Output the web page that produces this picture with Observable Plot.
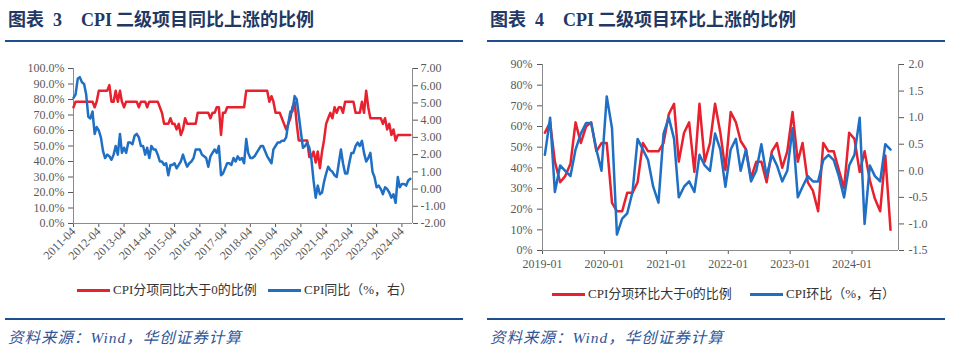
<!DOCTYPE html>
<html><head><meta charset="utf-8">
<script src="https://cdn.jsdelivr.net/npm/d3@7"></script>
<script src="https://cdn.jsdelivr.net/npm/@observablehq/plot@0.6"></script>
<style>
html,body{margin:0;padding:0;background:#fff;}
body{width:960px;height:358px;overflow:hidden;position:relative;font-family:"Liberation Serif","Noto Sans CJK SC",serif;}
.title{position:absolute;top:10px;font-size:18px;font-weight:bold;color:#1F3864;white-space:nowrap;line-height:20px;}
.rule{position:absolute;height:2px;background:#1F4E8C;}
.src{position:absolute;top:329px;font-size:15.5px;letter-spacing:1px;font-style:italic;color:#2F5597;white-space:nowrap;line-height:18px;}
.chart{position:absolute;top:50px;width:480px;height:225px;}
.chart svg{position:absolute;left:0;top:0;}
.leg{position:absolute;font-size:13px;color:#333;white-space:nowrap;line-height:16px;}
.leg i{display:inline-block;width:33px;height:3px;vertical-align:middle;margin-right:3px;position:relative;top:-1px;}
</style>
</head><body>
<div class="title" style="left:8px"><span>图表</span><span style="margin-left:9px">3</span><span style="margin-left:19px">CPI</span><span style="margin-left:4px">二级项目同比上涨的比例</span></div>
<div class="rule" style="left:5px;width:458px;top:40px"></div>
<div class="chart" id="c1" style="left:0"></div>
<div class="leg" style="left:77px;top:282px"><i style="background:#E8212E"></i>CPI分项同比大于0的比例</div>
<div class="leg" style="left:268px;top:282px"><i style="background:#1F6FC5"></i>CPI同比（%，右）</div>
<div class="rule" style="left:5px;width:458px;top:318px"></div>
<div class="src" style="left:8px">资料来源：Wind，华创证券计算</div>

<div class="title" style="left:490px"><span>图表</span><span style="margin-left:9px">4</span><span style="margin-left:19px">CPI</span><span style="margin-left:4px">二级项目环比上涨的比例</span></div>
<div class="rule" style="left:487px;width:458px;top:40px"></div>
<div class="chart" id="c2" style="left:480px"></div>
<div class="leg" style="left:552px;top:286px"><i style="background:#E8212E"></i>CPI分项环比大于0的比例</div>
<div class="leg" style="left:750px;top:286px"><i style="background:#1F6FC5"></i>CPI环比（%，右）</div>
<div class="rule" style="left:487px;width:458px;top:318px"></div>
<div class="src" style="left:490px">资料来源：Wind，华创证券计算</div>

<script>
// ---------- Data: Chart 3 (monthly, from 2011-04) ----------
const yoyStart = "2011-04";
const yoyShare = [ // % of CPI sub-items with YoY > 0
  75.0, 78.6, 78.6, 78.6, 78.6, 78.6, 78.6, 78.6, 78.6,
  78.6, 75.0, 78.6, 85.7, 85.7, 85.7, 85.7, 85.7, 89.3, 78.6, 78.6, 85.7,
  78.6, 85.7, 78.6, 75.0, 78.6, 78.6, 78.6, 78.6, 78.6, 78.6, 75.0, 78.6,
  78.6, 78.6, 75.0, 78.6, 78.6, 78.6, 78.6, 78.6, 75.0, 71.4, 64.3, 64.3,
  64.3, 67.9, 64.3, 64.3, 60.7, 64.3, 57.1, 60.7, 67.9, 64.3, 64.3, 64.3,
  64.3, 64.3, 71.4, 71.4, 71.4, 71.4, 71.4, 71.4, 67.9, 71.4, 71.4, 75.0,
  75.0, 57.1, 71.4, 71.4, 75.0, 75.0, 75.0, 75.0, 75.0, 75.0, 75.0, 75.0,
  75.0, 85.7, 85.7, 85.7, 85.7, 85.7, 85.7, 85.7, 85.7, 85.7, 85.7, 85.7,
  78.6, 82.1, 78.6, 71.4, 71.4, 71.4, 67.9, 64.3, 60.7, 64.3, 67.9, 75.0,
  78.6, 64.3, 53.6, 53.6, 53.6, 53.6, 53.6, 42.9, 42.9, 46.4, 39.3, 46.4,
  35.7, 46.4, 53.6, 64.3, 67.9, 71.4, 67.9, 75.0, 71.4, 75.0, 75.0, 71.4,
  78.6, 78.6, 78.6, 78.6, 78.6, 71.4, 71.4, 71.4, 78.6, 71.4, 85.7, 75.0,
  67.9, 67.9, 67.9, 67.9, 67.9, 67.9, 64.3, 67.9, 60.7, 64.3, 57.1, 60.7,
  53.6, 57.1, 57.1, 57.1, 57.1, 57.1, 57.1, 57.1
];
const cpiYoY = [ // CPI YoY, %
  5.3, 5.5, 6.4, 6.5, 6.2, 6.1, 5.5, 4.2, 4.1,
  4.5, 3.2, 3.6, 3.4, 3.0, 2.2, 1.8, 2.0, 1.9, 1.7, 2.0, 2.5,
  2.0, 3.2, 2.1, 2.4, 2.1, 2.7, 2.7, 2.6, 3.1, 3.2, 3.0, 2.5,
  2.5, 2.0, 2.4, 1.8, 2.5, 2.3, 2.3, 2.0, 1.6, 1.6, 1.4, 1.5,
  0.8, 1.4, 1.4, 1.5, 1.2, 1.4, 1.6, 2.0, 1.6, 1.3, 1.5, 1.6,
  1.8, 2.3, 2.3, 2.3, 2.0, 1.9, 1.8, 1.3, 1.9, 2.1, 2.3, 2.1,
  2.5, 0.8, 0.9, 1.2, 1.5, 1.5, 1.4, 1.8, 1.6, 1.9, 1.7, 1.8,
  1.5, 2.9, 2.1, 1.8, 1.8, 1.9, 2.1, 2.3, 2.5, 2.5, 2.2, 1.9,
  1.7, 1.5, 2.3, 2.5, 2.7, 2.7, 2.8, 2.8, 3.0, 3.8, 4.5, 4.5,
  5.4, 5.2, 4.3, 3.3, 2.4, 2.5, 2.7, 2.4, 1.7, 0.5, -0.5, 0.2,
  -0.3, -0.2, 0.4, 0.9, 1.3, 1.1, 1.0, 0.8, 0.7, 1.5, 2.3, 1.5,
  0.9, 0.9, 1.5, 2.1, 2.1, 2.5, 2.7, 2.5, 2.8, 2.1, 1.6, 1.8,
  2.1, 1.0, 0.7, 0.1, 0.2, 0.0, -0.3, 0.1, 0.0, -0.2, -0.5, -0.3,
  -0.8, 0.7, 0.1, 0.3, 0.3, 0.2, 0.5, 0.6
];
const yoyTicks = ["2011-04","2012-04","2013-04","2014-04","2015-04","2016-04","2017-04",
  "2018-04","2019-04","2020-04","2021-04","2022-04","2023-04","2024-04"];
const yoyLeftTicks = [0,10,20,30,40,50,60,70,80,90,100];
const yoyRightTicks = [-2,-1,0,1,2,3,4,5,6,7];

// ---------- Data: Chart 4 (monthly, from 2019-01) ----------
const momStart = "2019-01";
const momShare = [ // % of CPI sub-items with MoM > 0
  57, 62, 43, 33, 36, 42, 62, 52, 60, 62, 48, 52,
  52, 23, 19, 19, 28, 28, 33, 52, 48, 48, 48, 52,
  66, 71, 43, 57, 62, 38, 71, 43, 52, 71, 57, 39,
  67, 62, 53, 49, 35, 43, 43, 33, 48, 52, 40, 48,
  67, 43, 52, 33, 29, 19, 52, 48, 48, 39, 30, 57,
  54, 38, 48, 34, 25, 19, 46, 10
];
const cpiMoM = [ // CPI MoM, %
  0.3, 1.0, -0.4, 0.1, 0.0, -0.1, 0.4, 0.7, 0.9, 0.9, 0.4, 0.0,
  1.4, 0.8, -1.2, -0.9, -0.8, -0.4, 0.6, 0.4, 0.2, -0.3, -0.6, 0.7,
  1.0, 0.6, -0.5, -0.3, -0.2, -0.4, 0.3, 0.1, 0.0, 0.7, 0.4, -0.3,
  0.4, 0.6, 0.0, 0.4, -0.2, 0.0, 0.5, -0.1, 0.3, 0.1, -0.2, 0.0,
  0.8, -0.5, -0.3, -0.1, -0.2, -0.2, 0.2, 0.3, 0.2, -0.1, -0.5, 0.1,
  0.3, 1.0, -1.0, 0.1, -0.1, -0.2, 0.5, 0.4
];
const momTicks = ["2019-01","2020-01","2021-01","2022-01","2023-01","2024-01"];
const momLeftTicks = [0,10,20,30,40,50,60,70,80,90];
const momRightTicks = [-1.5,-1.0,-0.5,0.0,0.5,1.0,1.5,2.0];

// ---------- Drawing ----------
const RED = "#E8212E", BLUE = "#1F6FC5", AXIS = "#8c8c8c", TXT = "#595959";
const pm = d3.utcParse("%Y-%m");
const fm = d3.utcFormat("%Y-%m");
const baseStyle = {fontFamily: '"Liberation Serif","Noto Sans CJK SC",serif', fontSize: "12px", color: TXT, background: "transparent", overflow: "visible"};

// Chart 3
{
  const s = pm(yoyStart);
  const data = yoyShare.map((v, i) => ({date: d3.utcMonth.offset(s, i), share: v, cpi: cpiYoY[i]}));
  const dom = [s, d3.utcMonth.offset(s, yoyShare.length)];
  const dims = {width: 460, height: 225, marginLeft: 73, marginRight: 48, marginTop: 18, marginBottom: 52, style: baseStyle};
  const a = Plot.plot({
    ...dims,
    x: {type: "utc", domain: dom, ticks: yoyTicks.map(pm), tickFormat: fm, tickRotate: -45, tickSize: 4, tickPadding: 2, label: null},
    y: {domain: [0, 100], ticks: yoyLeftTicks, tickFormat: d => d.toFixed(1) + "%", tickSize: 5, tickPadding: 4, label: null},
    marks: [
      Plot.ruleX([dom[0]], {stroke: AXIS}),
      Plot.ruleY([0], {stroke: AXIS}),
      Plot.lineY(data, {x: "date", y: "share", stroke: RED, strokeWidth: 2.5})
    ]
  });
  const b = Plot.plot({
    ...dims,
    x: {type: "utc", domain: dom, axis: null},
    y: {domain: [-2, 7], axis: "right", ticks: yoyRightTicks, tickFormat: d => d.toFixed(2), tickSize: 5, tickPadding: 3, label: null},
    marks: [
      Plot.ruleX([dom[1]], {stroke: AXIS}),
      Plot.lineY(data, {x: "date", y: "cpi", stroke: BLUE, strokeWidth: 2.5})
    ]
  });
  const c = document.getElementById("c1");
  c.append(a); c.append(b);
}

// Chart 4
{
  const s = pm(momStart);
  const data = momShare.map((v, i) => ({date: d3.utcDay.offset(d3.utcMonth.offset(s, i), 14), share: v, cpi: cpiMoM[i]}));
  const dom = [s, d3.utcMonth.offset(s, momShare.length + 1)];
  const dims = {width: 480, height: 225, marginLeft: 62, marginRight: 62, marginTop: 14, marginBottom: 25, style: baseStyle};
  const a = Plot.plot({
    ...dims,
    x: {type: "utc", domain: dom, ticks: momTicks.map(pm), tickFormat: fm, tickSize: 4, tickPadding: 5, label: null},
    y: {domain: [0, 90], ticks: momLeftTicks, tickFormat: d => d + "%", tickSize: 5, tickPadding: 5, label: null},
    marks: [
      Plot.ruleX([dom[0]], {stroke: AXIS}),
      Plot.ruleY([0], {stroke: AXIS}),
      Plot.lineY(data, {x: "date", y: "share", stroke: RED, strokeWidth: 2.5})
    ]
  });
  const b = Plot.plot({
    ...dims,
    x: {type: "utc", domain: dom, axis: null},
    y: {domain: [-1.5, 2.0], axis: "right", ticks: momRightTicks, tickFormat: d => d.toFixed(1), tickSize: 5, tickPadding: 5, label: null},
    marks: [
      Plot.ruleX([dom[1]], {stroke: AXIS}),
      Plot.lineY(data, {x: "date", y: "cpi", stroke: BLUE, strokeWidth: 2.5})
    ]
  });
  const c = document.getElementById("c2");
  c.append(a); c.append(b);
}
</script>
</body></html>
